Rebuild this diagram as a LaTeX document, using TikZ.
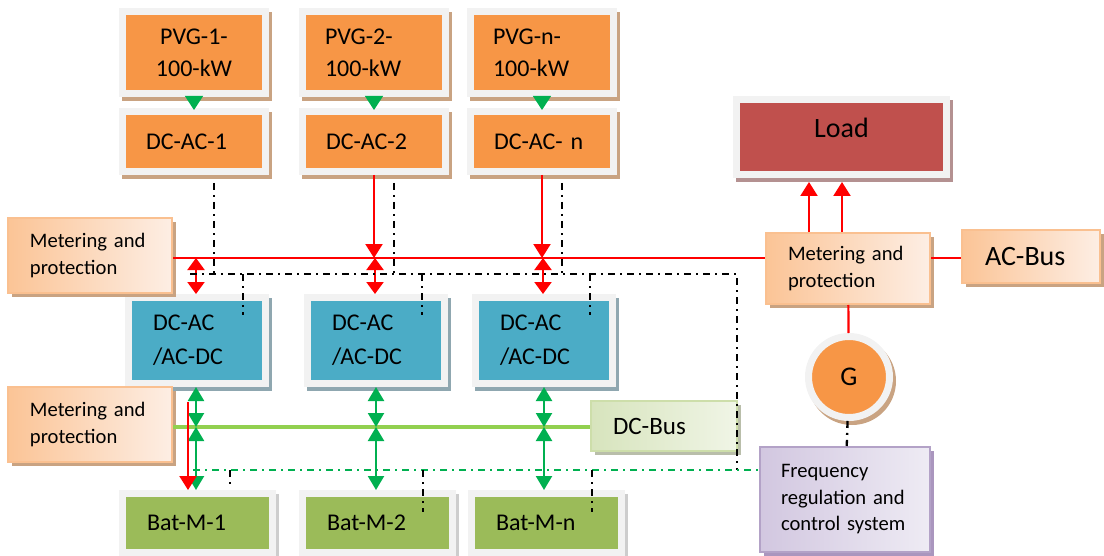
\documentclass[tikz,border=0pt]{standalone}
\usepackage{fontspec}
\setmainfont{Carlito}
\usetikzlibrary{arrows.meta,shadows,positioning}

\definecolor{framegray}{RGB}{242,242,242}
\definecolor{pvorange}{RGB}{247,150,70}
\definecolor{tanshadow}{RGB}{201,163,130}
\definecolor{convblue}{RGB}{75,172,198}
\definecolor{convshadow}{RGB}{143,167,176}
\definecolor{batgreen}{RGB}{155,187,89}
\definecolor{batshadow}{RGB}{205,205,205}
\definecolor{loadred}{RGB}{192,80,77}
\definecolor{loadshadow}{RGB}{180,145,145}
\definecolor{meterdark}{RGB}{251,196,150}
\definecolor{meterlight}{RGB}{253,238,228}
\definecolor{meterline}{RGB}{250,192,144}
\definecolor{busdark}{RGB}{215,228,189}
\definecolor{buslight}{RGB}{240,245,230}
\definecolor{busline}{RGB}{205,222,170}
\definecolor{busshadow}{RGB}{185,190,170}
\definecolor{ctrldark}{RGB}{210,199,224}
\definecolor{ctrllight}{RGB}{238,235,244}
\definecolor{ctrlline}{RGB}{179,162,199}
\definecolor{ctrlshadow}{RGB}{170,150,190}
\definecolor{acred}{RGB}{255,0,0}
\definecolor{dcgreen}{RGB}{0,176,80}
\definecolor{dcbusgreen}{RGB}{146,208,80}

\tikzset{
  framed/.style={draw=framegray,line width=3.5pt,
    drop shadow={shadow xshift=1.5pt,shadow yshift=-2pt,draw=#1,fill=#1,line width=3.5pt,opacity=1}},
  pvbox/.style={rectangle,framed=tanshadow,fill=pvorange,minimum width=71.5pt,
    text width=49pt,align=left,font=\fontsize{12}{16}\selectfont},
  convbox/.style={rectangle,framed=convshadow,fill=convblue,minimum width=68.5pt,minimum height=43pt,
    text width=44pt,align=left,font=\fontsize{12}{17}\selectfont},
  batbox/.style={rectangle,framed=batshadow,fill=batgreen,minimum width=75pt,minimum height=29.5pt,
    text width=50pt,align=left,font=\fontsize{12}{16}\selectfont},
  thinbox/.style={rectangle,draw=#1,line width=1pt,align=left},
  meterbox/.style={thinbox=meterline,left color=meterdark,right color=meterlight,
    drop shadow={shadow xshift=2pt,shadow yshift=-2pt,fill=tanshadow,opacity=1},
    minimum width=82pt,text width=60pt,font=\fontsize{10.3}{13.5}\selectfont},
  acline/.style={draw=acred,line width=1.1pt},
  acarrow/.style={acline,-{Triangle[width=8.5pt,length=7pt]}},
  acboth/.style={acline,{Triangle[width=8.5pt,length=6pt]}-{Triangle[width=8.5pt,length=6pt]}},
  dcline/.style={draw=dcbusgreen,line width=1.7pt},
  dcboth/.style={draw=dcgreen,line width=1.1pt,{Triangle[width=8pt,length=7pt]}-{Triangle[width=8pt,length=7pt]}},
  pvarrow/.style={draw=dcgreen,line width=0.5pt,-{Triangle[width=9pt,length=7pt]},shorten >=-1pt},
  ctrl/.style={draw=black,line width=1.15pt,dash pattern=on 3.5pt off 2.5pt on 1pt off 2.5pt},
  gctrl/.style={ctrl,draw=dcgreen},
}

\begin{document}
\begin{tikzpicture}[x=0.5pt,y=-0.5pt]
\useasboundingbox (0,0) rectangle (1104,556);

% PV generators and their inverters
\node[pvbox,align=center,minimum height=41pt](pvg1) at (194,52.5) {PVG-1-\\100-kW};
\node[pvbox,minimum height=41pt](pvg2) at (374,52.5) {PVG-2-\\100-kW};
\node[pvbox,minimum height=41pt](pvgn) at (542,52.5) {PVG-n-\\100-kW};

\node[pvbox,minimum height=30pt,text width=48pt](dcac1) at (194,141.5) {DC-AC-1};
\node[pvbox,minimum height=30pt,text width=48pt](dcac2) at (374,141.5) {DC-AC-2};
\node[pvbox,minimum height=30pt,text width=48pt](dcacn) at (542,141.5) {DC-AC- n};

% bidirectional converters
\node[convbox](conv1) at (197,340.5) {DC-AC\\/AC-DC};
\node[convbox](conv2) at (376,340.5) {DC-AC\\/AC-DC};
\node[convbox](convn) at (544,340.5) {DC-AC\\/AC-DC};

% battery modules
\node[batbox](bat1) at (197,523) {Bat-M-1};
\node[batbox](bat2) at (377,523) {Bat-M-2};
\node[batbox](batn) at (546,523) {Bat-M-n};

% metering, buses, load
\node[meterbox,minimum height=37.5pt](meter1) at (90,255.5) {Metering and\\protection};
\node[meterbox,minimum height=37.5pt](meter2) at (90,424.5) {Metering and\\protection};
\node[meterbox,minimum height=35.5pt](meterr) at (848,268.5) {Metering and\\protection};

\node[rectangle,framed=loadshadow,fill=loadred,minimum width=105pt,minimum height=37.5pt,
  text depth=9pt,font=\fontsize{14}{16}\selectfont](load) at (841.5,137) {Load};

\node[thinbox=meterline,left color=meterdark,right color=meterlight,
  drop shadow={shadow xshift=2pt,shadow yshift=-2pt,fill=tanshadow,opacity=1},
  minimum width=69pt,minimum height=26.5pt,text width=46pt,
  font=\fontsize{14}{16}\selectfont](acbus) at (1031,256.5) {AC-Bus};

\node[thinbox=busline,left color=busdark,right color=buslight,
  drop shadow={shadow xshift=2pt,shadow yshift=-2pt,fill=busshadow,opacity=1},
  minimum width=73pt,minimum height=25pt,text width=51pt,
  font=\fontsize{12.5}{15}\selectfont](dcbus) at (664,426) {DC-Bus};

\node[circle,framed=tanshadow,fill=pvorange,minimum size=40.5pt,inner sep=0pt,
  font=\fontsize{13.5}{16}\selectfont](gen) at (849,377) {G};

\node[thinbox=ctrlline,left color=ctrldark,right color=ctrllight,
  drop shadow={shadow xshift=2pt,shadow yshift=-2pt,fill=ctrlshadow,opacity=1},
  minimum width=85pt,minimum height=52.5pt,text width=64pt,
  font=\fontsize{10.3}{13.25}\selectfont](freq) at (845,499.5)
  {Frequency\\regulation and\\control system};

% bus junctions
\coordinate (acb1) at (196,258);
\coordinate (acb2) at (375,258);
\coordinate (acbn) at (543,258);
\coordinate (dcb1) at (196,427);
\coordinate (dcb2) at (376,427);
\coordinate (dcbn) at (544,427);
\coordinate (ctlw) at (190,274);
\coordinate (ctle) at (737,274);
\coordinate (gctlw) at (193,470);
\coordinate (batfeed) at (188,402);

% AC side
\draw[acline] (meter1.east |- acb1) -- (meterr.west |- acb1);
\draw[acline] (meterr.east |- acb1) -- (acbus.west |- acb1);
\draw[acarrow] (dcac2.south) -- (dcac2.south |- acb2);
\draw[acarrow] (dcacn.south) -- (dcacn.south |- acbn);
\draw[acboth] (acb1) -- (acb1 |- conv1.north);
\draw[acboth] (acb2) -- (acb2 |- conv2.north);
\draw[acboth] (acbn) -- (acbn |- convn.north);
\draw[acarrow] ([xshift=-19.5pt]meterr.north) -- ([xshift=-19.5pt,yshift=-2pt]meterr.north |- load.south);
\draw[acarrow] ([xshift=-3pt]meterr.north) -- ([xshift=-3pt,yshift=-2pt]meterr.north |- load.south);
\draw[acline] (meterr) -- (gen);

% DC side
\draw[dcline] (meter2.east |- dcb1) -- (dcbus.west |- dcb1);
\draw[dcboth] (dcb1 |- conv1.south) -- (dcb1);
\draw[dcboth] (dcb1) -- (dcb1 |- bat1.north);
\draw[dcboth] (dcb2 |- conv2.south) -- (dcb2);
\draw[dcboth] (dcb2) -- (dcb2 |- bat2.north);
\draw[dcboth] (dcbn |- convn.south) -- (dcbn);
\draw[dcboth] (dcbn) -- (dcbn |- batn.north);
\draw[acarrow] (batfeed) -- (batfeed |- bat1.north);

% PV feed
\draw[pvarrow] (pvg1) -- (dcac1);
\draw[pvarrow] (pvg2) -- (dcac2);
\draw[pvarrow] (pvgn) -- (dcacn);

% control signals
\draw[ctrl] ([xshift=10pt,yshift=-4pt]dcac1.south) -- ([xshift=10pt]dcac1.south |- ctlw);
\draw[ctrl] ([xshift=10pt,yshift=-4pt]dcac2.south) -- ([xshift=10pt]dcac2.south |- ctlw);
\draw[ctrl] ([xshift=10pt,yshift=-4pt]dcacn.south) -- ([xshift=10pt]dcacn.south |- ctlw);
\draw[ctrl] (ctlw) -- (ctle) -- (ctle |- gctlw);
\draw[ctrl] ([xshift=23pt]conv1.north |- ctlw) -- ([xshift=23pt,yshift=-10.5pt]conv1.north);
\draw[ctrl] ([xshift=23pt]conv2.north |- ctlw) -- ([xshift=23pt,yshift=-10.5pt]conv2.north);
\draw[ctrl] ([xshift=23pt]convn.north |- ctlw) -- ([xshift=23pt,yshift=-10.5pt]convn.north);
\draw[gctrl] (gctlw) -- (freq.west |- gctlw);
\draw[ctrl] ([xshift=16.5pt]bat1.north |- gctlw) -- ([xshift=16.5pt,yshift=1pt]bat1.north);
\draw[ctrl] ([xshift=23pt]bat2.north |- gctlw) -- ([xshift=23pt,yshift=-11pt]bat2.north);
\draw[ctrl] ([xshift=23pt]batn.north |- gctlw) -- ([xshift=23pt,yshift=-11pt]batn.north);
\draw[ctrl] (gen) -- (freq);

\end{tikzpicture}
\end{document}
